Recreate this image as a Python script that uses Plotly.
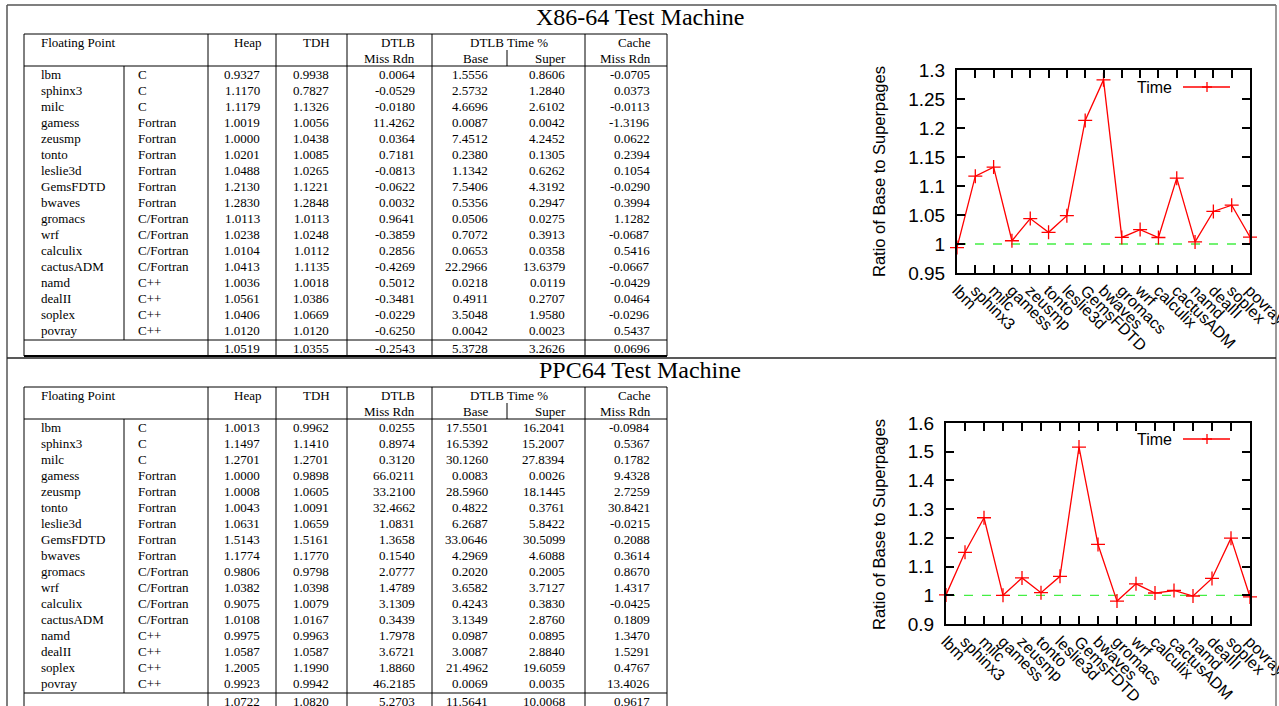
import plotly.graph_objects as go

W, H = 1279, 706

benchmarks = ["lbm", "sphinx3", "milc", "gamess", "zeusmp", "tonto", "leslie3d", "GemsFDTD",
              "bwaves", "gromacs", "wrf", "calculix", "cactusADM", "namd", "dealII", "soplex", "povray"]
languages = ["C", "C", "C", "Fortran", "Fortran", "Fortran", "Fortran", "Fortran", "Fortran",
             "C/Fortran", "C/Fortran", "C/Fortran", "C/Fortran", "C++", "C++", "C++", "C++"]

# ---- X86-64 table ----
x86_heap = ["0.9327", "1.1170", "1.1179", "1.0019", "1.0000", "1.0201", "1.0488", "1.2130", "1.2830",
            "1.0113", "1.0238", "1.0104", "1.0413", "1.0036", "1.0561", "1.0406", "1.0120"]
x86_tdh = ["0.9938", "0.7827", "1.1326", "1.0056", "1.0438", "1.0085", "1.0265", "1.1221", "1.2848",
           "1.0113", "1.0248", "1.0112", "1.1135", "1.0018", "1.0386", "1.0669", "1.0120"]
x86_dtlb = ["0.0064", "-0.0529", "-0.0180", "11.4262", "0.0364", "0.7181", "-0.0813", "-0.0622", "0.0032",
            "0.9641", "-0.3859", "0.2856", "-0.4269", "0.5012", "-0.3481", "-0.0229", "-0.6250"]
x86_base = ["1.5556", "2.5732", "4.6696", "0.0087", "7.4512", "0.2380", "1.1342", "7.5406", "0.5356",
            "0.0506", "0.7072", "0.0653", "22.2966", "0.0218", "0.4911", "3.5048", "0.0042"]
x86_super = ["0.8606", "1.2840", "2.6102", "0.0042", "4.2452", "0.1305", "0.6262", "4.3192", "0.2947",
             "0.0275", "0.3913", "0.0358", "13.6379", "0.0119", "0.2707", "1.9580", "0.0023"]
x86_cache = ["-0.0705", "0.0373", "-0.0113", "-1.3196", "0.0622", "0.2394", "0.1054", "-0.0290", "0.3994",
             "1.1282", "-0.0687", "0.5416", "-0.0667", "-0.0429", "0.0464", "-0.0296", "0.5437"]
x86_summary = ["1.0519", "1.0355", "-0.2543", "5.3728", "3.2626", "0.0696"]

# ---- PPC64 table ----
ppc_heap = ["1.0013", "1.1497", "1.2701", "1.0000", "1.0008", "1.0043", "1.0631", "1.5143", "1.1774",
            "0.9806", "1.0382", "0.9075", "1.0108", "0.9975", "1.0587", "1.2005", "0.9923"]
ppc_tdh = ["0.9962", "1.1410", "1.2701", "0.9898", "1.0605", "1.0091", "1.0659", "1.5161", "1.1770",
           "0.9798", "1.0398", "1.0079", "1.0167", "0.9963", "1.0587", "1.1990", "0.9942"]
ppc_dtlb = ["0.0255", "0.8974", "0.3120", "66.0211", "33.2100", "32.4662", "1.0831", "1.3658", "0.1540",
            "2.0777", "1.4789", "3.1309", "0.3439", "1.7978", "3.6721", "1.8860", "46.2185"]
ppc_base = ["17.5501", "16.5392", "30.1260", "0.0083", "28.5960", "0.4822", "6.2687", "33.0646", "4.2969",
            "0.2020", "3.6582", "0.4243", "3.1349", "0.0987", "3.0087", "21.4962", "0.0069"]
ppc_super = ["16.2041", "15.2007", "27.8394", "0.0026", "18.1445", "0.3761", "5.8422", "30.5099", "4.6088",
             "0.2005", "3.7127", "0.3830", "2.8760", "0.0895", "2.8840", "19.6059", "0.0035"]
ppc_cache = ["-0.0984", "0.5367", "0.1782", "9.4328", "2.7259", "30.8421", "-0.0215", "0.2088", "0.3614",
             "0.8670", "1.4317", "-0.0425", "0.1809", "1.3470", "1.5291", "0.4767", "13.4026"]
ppc_summary = ["1.0722", "1.0820", "5.2703", "11.5641", "10.0068", "0.9617"]

# ---- chart series (Time ratio) ----
x86_time = [0.9938, 1.1170, 1.1326, 1.0056, 1.0438, 1.0201, 1.0488, 1.2130, 1.2830,
            1.0113, 1.0248, 1.0112, 1.1135, 1.0036, 1.0561, 1.0669, 1.0120]
ppc_time = [1.0013, 1.1497, 1.2701, 1.0000, 1.0605, 1.0091, 1.0659, 1.5161, 1.1770,
            0.9798, 1.0398, 1.0079, 1.0167, 0.9975, 1.0587, 1.1990, 0.9942]

header_top = ["Heap", "TDH", "DTLB", "", "", "Cache"]
header_bot = ["", "", "Miss Rdn", "Base", "Super", "Miss Rdn"]

fig = go.Figure()

SERIF = "Liberation Serif"
SANS = "Liberation Sans"

shapes = []
annotations = []

def pline(x0, y0, x1, y1, width=1, color="black", dash=None):
    d = dict(type="line", xref="x3", yref="y3", x0=x0, y0=y0, x1=x1, y1=y1,
             line=dict(color=color, width=width))
    if dash:
        d["line"]["dash"] = dash
    shapes.append(d)

def ptext(x, y, text, xanchor="right", size=13, family=SERIF, angle=0):
    annotations.append(dict(xref="x3", yref="y3", x=x, y=y, text=text, showarrow=False,
                            xanchor=xanchor, yanchor="middle", textangle=angle,
                            borderpad=0, borderwidth=0,
                            font=dict(family=family, size=size, color="black")))

# outer frame
pline(7, 5, 1276, 5, 1.5, "#555555")
pline(7, 5, 7, 706, 1.5, "#555555")
pline(1276, 5, 1276, 706, 1.5, "#777777")
pline(7, 358, 1276, 358, 1.5, "#222222")

col_lines = [24, 124, 208, 276, 347, 432, 507, 585, 667]
num_right = [260, 329, 415, 488, 565, 650]
hdr_right = [261, 330, 415, 489, 566, 651]
PITCH = 16.06

def draw_table(T, title, heap, tdh, dtlb, base, sup, cache, summary):
    ptext(640, T - 17, title, xanchor="center", size=24)
    left, right = col_lines[0], col_lines[-1]
    bottom = T + 322
    pline(left, T, right, T)
    pline(left, T + 32, right, T + 32)
    pline(left, T + 306, right, T + 306)
    pline(left, bottom, right, bottom, 2)
    for xv in [24, 208, 276, 347, 432, 585, 667]:
        pline(xv, T, xv, bottom)
    pline(124, T + 32, 124, T + 306)
    pline(507, T + 16, 507, T + 32)
    # headers
    ptext(41, T + 8, "Floating Point", xanchor="left")
    for i, (a, b) in enumerate(zip(header_top, header_bot)):
        if a:
            ptext(hdr_right[i], T + 8, a)
        if b:
            ptext(hdr_right[i], T + 24, b)
    ptext(509, T + 8, "DTLB Time %", xanchor="center")
    cols = [heap, tdh, dtlb, base, sup, cache]
    for r, name in enumerate(benchmarks):
        y = T + 40 + r * PITCH
        ptext(41, y, name, xanchor="left")
        ptext(138, y, languages[r], xanchor="left")
        for c, colvals in enumerate(cols):
            ptext(num_right[c], y, colvals[r])
    for c, v in enumerate(summary):
        ptext(num_right[c], T + 314, v)

draw_table(34, "X86-64 Test Machine", x86_heap, x86_tdh, x86_dtlb, x86_base, x86_super, x86_cache, x86_summary)
draw_table(387, "PPC64 Test Machine", ppc_heap, ppc_tdh, ppc_dtlb, ppc_base, ppc_super, ppc_cache, ppc_summary)

# charts
def px_dom_x(a, b):
    return [a / W, b / W]

def px_dom_y(top, bot):
    return [1 - bot / H, 1 - top / H]

charts = [
    dict(ax="", vals=x86_time, xd=(957, 1250), yd=(70, 273), rng=[0.95, 1.3], dtick=0.05, legy=87, ttl_y=172),
    dict(ax="2", vals=ppc_time, xd=(946, 1250), yd=(423, 624), rng=[0.9, 1.6], dtick=0.1, legy=439, ttl_y=525),
]

layout_axes = {}
for ch in charts:
    a = ch["ax"]
    fig.add_trace(go.Scatter(
        x=benchmarks, y=ch["vals"], mode="lines+markers", name="Time",
        line=dict(color="red", width=1.3),
        marker=dict(symbol="cross-thin", size=10, color="red", line=dict(color="red", width=1.3)),
        xaxis="x" + a, yaxis="y" + a, showlegend=False, cliponaxis=False))
    layout_axes["xaxis" + a] = dict(
        domain=px_dom_x(*ch["xd"]), anchor="y" + a, type="category",
        categoryorder="array", categoryarray=benchmarks, range=[0, 16],
        tickmode="array", tickvals=benchmarks, ticktext=benchmarks, automargin=False,
        tickangle=45, ticks="inside", ticklen=8, tickwidth=1.5, tickcolor="black",
        showline=True, linewidth=2, linecolor="black", mirror="ticks", showgrid=False,
        zeroline=False, tickfont=dict(family=SANS, size=16, color="black"))
    layout_axes["yaxis" + a] = dict(
        domain=px_dom_y(*ch["yd"]), anchor="x" + a, range=ch["rng"], dtick=ch["dtick"],
        tick0=0, ticks="inside", ticklen=8, tickwidth=1.5, tickcolor="black", automargin=False,
        ticklabelstandoff=6,
        showline=True, linewidth=2, linecolor="black", mirror="ticks", showgrid=False,
        zeroline=False, tickfont=dict(family=SANS, size=19, color="black"))
    # reference line at 1
    shapes.append(dict(type="line", xref="x" + a + " domain", yref="y" + a, x0=0, x1=1, y0=1, y1=1,
                       line=dict(color="#44ee44", width=1.3, dash="dash"), layer="below"))
    # y title
    ptext(879, ch["ttl_y"], "Ratio of Base to Superpages", xanchor="center", size=16.5, family=SANS, angle=-90)
    # legend
    ly = ch["legy"]
    ptext(1172, ly, "Time", xanchor="right", size=16, family=SANS)
    pline(1183, ly, 1230, ly, 1.3, "red")
    pline(1202, ly, 1212, ly, 1.3, "red")
    pline(1207, ly - 5, 1207, ly + 5, 1.3, "red")

fig.update_layout(
    width=W, height=H, margin=dict(l=0, r=0, t=0, b=0, autoexpand=False),
    paper_bgcolor="white", plot_bgcolor="rgba(0,0,0,0)",
    xaxis3=dict(domain=[0, 1], range=[0, W], visible=False, anchor="y3", fixedrange=True, automargin=False),
    yaxis3=dict(domain=[0, 1], range=[H, 0], visible=False, anchor="x3", fixedrange=True, automargin=False),
    shapes=shapes, annotations=annotations, showlegend=False,
    **layout_axes)

# invisible trace to activate overlay pixel axes
fig.add_trace(go.Scatter(x=[0], y=[0], xaxis="x3", yaxis="y3", mode="markers",
                         marker=dict(opacity=0), hoverinfo="skip", showlegend=False))

fig.write_html("out.html")
